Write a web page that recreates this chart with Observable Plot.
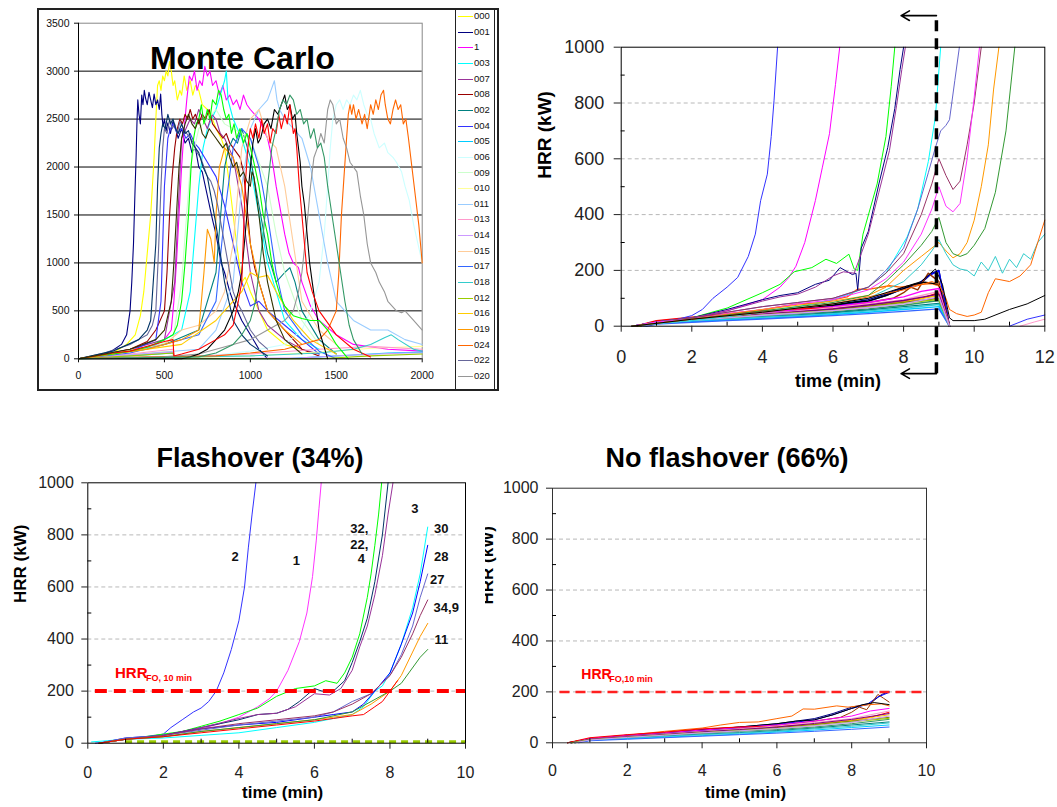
<!DOCTYPE html>
<html><head><meta charset="utf-8">
<script src="https://cdn.jsdelivr.net/npm/d3@7"></script>
<script src="https://cdn.jsdelivr.net/npm/@observablehq/plot@0.6"></script>
<style>
html,body{margin:0;padding:0;background:#fff;}
#root{position:relative;width:1057px;height:807px;overflow:hidden;background:#fff;font-family:"Liberation Sans",Arial,sans-serif;}
.abs{position:absolute;}
.title{position:absolute;font-weight:bold;font-size:27px;text-align:center;line-height:32px;color:#000;}
#legend{position:absolute;left:455px;top:10px;width:38px;height:379px;border-left:1px solid #222;border-right:1px solid #222;overflow:hidden;font-size:9.5px;}
.li{position:absolute;left:2px;height:12px;line-height:12px;white-space:nowrap;color:#111;}
.li span.sw{display:inline-block;width:15px;height:0;border-top:1.5px solid;vertical-align:middle;margin-right:1px;}
</style></head>
<body><div id="root">
<div id="p1box" class="abs" style="left:37px;top:8px;width:462px;height:383px;border:2px solid #222;box-sizing:border-box;"></div>
<div id="legend"></div>
<div id="p2" class="abs" style="left:520px;top:0px;"></div>
<div class="title" style="left:0px;top:442px;width:520px;">Flashover (34%)</div>
<div class="title" style="left:467px;top:442px;width:520px;">No flashover (66%)</div>
<div id="p3" class="abs" style="left:0px;top:470px;"></div>
<div id="p4" class="abs" style="left:485px;top:470px;"></div>
</div>
<script>
// ---------------- Panel 1: Monte Carlo (t in s, HRR in kW) ----------------
const mcNames = ["000","001","1","003","007","008","002","004","005","006","009","010","011","013","014","015","017","018","012","016","019","024","022","020","025","026","027","028","029","030"];
const mcColors = ["#FFFF00","#000080","#FF00FF","#00FFFF","#993399","#990000","#008080","#3333FF","#00CCFF","#CCFFFF","#CCFFCC","#FFFF99","#99CCFF","#FF99CC","#CC99FF","#FFCC99","#3366FF","#33CCCC","#99CC00","#FFCC00","#FF9900","#FF6600","#666699","#969696","#003366","#000000","#00FF00","#FF0000","#339966","#333300"];
const legendCount = 25;   // entries shown in the legend box
const mc000 = [[0,0],[100,20],[200,60],[280,150],[330,250],[360,450],[380,700],[400,1100],[420,1500],[440,2100],[450,2500],[460,2850],[470,2900],[480,2800],[490,2950],[500,2900],[510,3000],[520,2950],[530,3100],[540,3000],[550,2850],[560,2900],[575,2700],[590,2800],[600,2750],[615,2950],[630,2800],[650,2900],[665,2750],[680,2850],[700,2800],[720,2650],[750,2600],[780,2500],[800,2400],[830,2300],[850,2200],[880,1800],[900,1500],[920,1200],[950,800],[970,850],[1000,700],[1050,500],[1100,300],[1200,150],[1300,100]];
const mc001 = [[0,0],[100,30],[150,50],[200,90],[250,150],[280,250],[300,500],[310,800],[320,1200],[328,1700],[335,2100],[340,2450],[345,2700],[352,2550],[360,2450],[368,2750],[375,2650],[383,2800],[390,2720],[400,2650],[410,2780],[420,2700],[430,2620],[440,2760],[450,2650],[460,2700],[470,2600],[478,2760],[485,2550],[492,2420],[500,2500],[510,2380],[520,2460],[535,2350],[550,2480],[565,2400],[580,2300],[600,2400],[620,2250],[640,2300],[660,2150],[680,2200],[700,2000],[720,1950],[750,1700],[780,1450],[800,1300],[830,1000],[850,900],[880,700],[900,600],[950,400],[1000,250],[1050,100],[1100,0]];
const mc1 = [[0,0],[150,40],[300,80],[450,150],[500,200],[540,300],[555,600],[570,1000],[585,1500],[600,2000],[615,2400],[630,2700],[645,2950],[660,2900],[675,3000],[690,2800],[705,2900],[720,2850],[735,3050],[750,2950],[765,3000],[780,2850],[800,2900],[820,2750],[840,2850],[860,2700],[880,2750],[900,2650],[920,2700],[940,2600],[960,2750],[980,2650],[1000,2600],[1025,2550],[1050,2500],[1075,2400],[1100,2300],[1125,2100],[1150,1800],[1175,1550],[1200,1300],[1225,1100],[1250,1000],[1280,950],[1300,800],[1350,550],[1400,400],[1500,250],[1600,150],[1800,100],[2000,80]];
const mc003 = [[0,0],[400,100],[600,300],[650,700],[700,1800],[725,2200],[750,2400],[775,2500],[800,2600],[825,2750],[850,2900],[860,3000],[870,2700],[885,2600],[900,2500],[925,2400],[950,2300],[975,2150],[1000,2000],[1050,1500],[1100,1000],[1150,700],[1200,400],[1300,200],[1400,100]];
const mc007 = [[0,0],[300,100],[500,200],[560,800],[600,2300],[625,2400],[650,2500],[675,2450],[700,2600],[725,2500],[750,2400],[775,2550],[800,2500],[825,2350],[850,2300],[875,2200],[900,2100],[950,1600],[1000,900],[1050,500],[1100,350],[1200,200],[1300,100],[1400,50]];
const mc008 = [[0,0],[200,60],[300,100],[400,180],[450,300],[500,500],[515,900],[530,1500],[545,1900],[560,2200],[575,2400],[590,2500],[605,2450],[620,2550],[635,2500],[650,2600],[665,2500],[680,2550],[700,2450],[720,2550],[740,2500],[760,2600],[780,2450],[800,2400],[820,2350],[840,2300],[860,2350],[880,2250],[900,2200],[920,2150],[940,2100],[960,1950],[980,1600],[1000,1200],[1025,950],[1050,800],[1100,500],[1200,300],[1300,100],[1400,30]];
const mc002 = [[0,0],[500,150],[700,300],[800,900],[850,2000],[875,2200],[900,2300],[925,2250],[950,2400],[975,2250],[1000,2100],[1050,1600],[1100,1100],[1150,800],[1200,900],[1230,950],[1260,800],[1300,500],[1400,200],[1500,50]];
const mc004 = [[0,0],[300,80],[450,200],[480,600],[500,1800],[520,2300],[535,2400],[550,2450],[575,2350],[600,2400],[625,2300],[650,2350],[675,2250],[700,2200],[750,2050],[800,1900],[850,1600],[900,1200],[950,800],[1000,550],[1050,600],[1100,500],[1200,350],[1300,200],[1400,50]];
const mc005 = [[0,0],[300,30],[550,60],[560,0],[1200,0],[1400,20],[1600,40],[1800,60],[2000,70]];
const mc006 = [[0,0],[800,40],[1000,80],[1200,150],[1300,300],[1350,500],[1400,800],[1430,1300],[1450,1800],[1465,2200],[1480,2500],[1500,2650],[1520,2700],[1540,2600],[1560,2700],[1580,2650],[1600,2750],[1620,2700],[1640,2800],[1660,2650],[1680,2550],[1700,2500],[1720,2350],[1750,2200],[1780,2250],[1800,2150],[1830,2100],[1850,2050],[1880,1950],[1900,1800],[1925,1650],[1950,1400],[1975,1200],[2000,1000]];
const mc009 = [[0,0],[400,100],[550,200],[600,800],[650,2000],[700,2400],[750,2500],[800,2600],[850,2450],[900,2400],[1000,2300],[1100,1800],[1150,1300],[1200,900],[1300,400],[1400,150]];
const mc010 = [[0,0],[300,40],[550,80],[560,10],[1000,30],[1300,60],[1500,80],[1700,110],[2000,130]];
const mc011 = [[0,0],[700,100],[800,300],[900,800],[950,1800],[1000,2400],[1050,2600],[1100,2700],[1120,2800],[1140,2900],[1155,2700],[1170,2600],[1200,2500],[1250,2400],[1300,2300],[1350,2000],[1400,1500],[1450,1000],[1500,600],[1600,400],[1700,300],[1800,300],[1900,200],[2000,150]];
const mc013 = [[0,0],[300,50],[550,100],[560,20],[1000,50],[1400,100],[1700,130],[2000,100]];
const mc014 = [[0,0],[300,40],[550,70],[560,0],[1300,10],[1600,40],[1900,60],[2000,60]];
const mc015 = [[0,0],[500,150],[600,300],[700,350],[800,500],[850,700],[900,1200],[950,2200],[1000,2500],[1050,2600],[1100,2300],[1150,2200],[1200,1800],[1250,1200],[1300,600],[1400,300],[1500,150]];
const mc017 = [[0,0],[300,60],[500,150],[700,250],[800,600],[850,1500],[900,2200],[950,2400],[1000,2300],[1050,2000],[1100,1500],[1150,900],[1200,500],[1300,250],[1400,80],[1500,0]];
const mc018 = [[0,0],[1000,30],[1400,60],[1600,100],[1700,150],[1780,220],[1820,250],[1860,200],[1950,100],[2000,80]];
const mc012 = [[0,0],[300,30],[550,60],[560,0],[1400,0],[1700,30],[2000,50]];
const mc016 = [[0,0],[600,150],[800,400],[950,700],[1000,900],[1050,850],[1100,870],[1150,700],[1250,400],[1350,200],[1500,50]];
const mc019 = [[0,0],[400,100],[600,200],[700,300],[730,900],[750,1350],[770,1250],[790,1000],[800,1500],[820,2000],[850,2200],[900,2100],[950,1800],[1000,1200],[1050,800],[1100,500],[1200,300],[1300,150]];
const mc024 = [[0,0],[400,20],[800,30],[1000,60],[1200,100],[1300,150],[1400,200],[1450,300],[1500,500],[1515,900],[1530,1500],[1545,1900],[1560,2300],[1570,2550],[1580,2650],[1590,2550],[1600,2650],[1615,2500],[1630,2600],[1650,2450],[1665,2550],[1680,2400],[1700,2650],[1715,2550],[1730,2700],[1745,2600],[1760,2750],[1775,2800],[1785,2650],[1800,2500],[1815,2450],[1830,2600],[1845,2700],[1860,2600],[1875,2650],[1890,2450],[1905,2500],[1920,2300],[1940,2000],[1960,1700],[1980,1400],[2000,1000]];
const mc022 = [[0,0],[150,60],[300,150],[350,200],[400,250],[430,350],[450,500],[465,1100],[480,1800],[490,2200],[500,2400],[515,2350],[530,2500],[545,2400],[560,2450],[575,2350],[590,2480],[610,2400],[630,2350],[650,2300],[670,2250],[690,2150],[710,2100],[730,2000],[750,1900],[770,1850],[790,1750],[810,1600],[830,1400],[850,1200],[875,950],[900,700],[925,580],[950,500],[1000,300],[1050,180],[1100,100]];
const mc020 = [[0,0],[500,20],[700,50],[900,150],[1000,200],[1100,300],[1200,400],[1250,500],[1280,700],[1300,900],[1330,1400],[1350,1800],[1370,2100],[1390,2200],[1410,2350],[1430,2250],[1450,2600],[1465,2700],[1480,2650],[1500,2450],[1520,2500],[1540,2300],[1560,2200],[1580,2050],[1600,2000],[1620,1950],[1640,1700],[1660,1500],[1680,1200],[1700,1000],[1730,900],[1750,800],[1780,700],[1800,600],[1850,500],[1880,480],[1900,500],[1950,400],[2000,300]];
const mc025 = [[0,0],[200,80],[350,200],[400,300],[420,400],[435,800],[450,1200],[460,1800],[470,2200],[480,2350],[490,2450],[505,2400],[520,2550],[535,2450],[550,2500],[565,2400],[580,2350],[600,2450],[620,2350],[640,2380],[660,2250],[680,2200],[700,2150],[725,2000],[750,1900],[775,1650],[800,1400],[825,1100],[850,800],[875,600],[900,400],[950,250],[1000,150],[1100,30]];
const mc026 = [[0,0],[600,0],[650,20],[700,50],[750,100],[800,200],[850,300],[900,500],[930,700],[950,900],[965,1200],[980,1500],[990,1800],[1000,2000],[1015,2250],[1030,2400],[1045,2250],[1060,2300],[1080,2450],[1100,2500],[1120,2400],[1140,2600],[1160,2550],[1180,2650],[1200,2750],[1215,2600],[1230,2650],[1245,2500],[1260,2550],[1270,2350],[1280,2200],[1290,2050],[1300,1800],[1315,1600],[1330,1300],[1345,1000],[1360,800],[1380,550],[1400,300],[1450,0]];
const mc027 = [[0,0],[100,30],[200,50],[300,80],[400,120],[500,200],[550,250],[575,350],[600,600],[620,1000],[640,1500],[655,2000],[670,2300],[685,2450],[700,2500],[715,2650],[730,2450],[750,2600],[765,2500],[780,2700],[800,2650],[815,2800],[830,2750],[845,2600],[860,2500],[875,2550],[890,2350],[905,2450],[920,2300],[940,2400],[960,2250],[980,2350],[1000,2200],[1020,2050],[1050,1800],[1075,1500],[1100,1300],[1125,1000],[1150,800],[1175,650],[1200,550],[1250,450],[1300,420],[1350,400],[1400,400],[1450,300],[1500,150],[1570,0]];
const mc028 = [[0,0],[100,30],[200,60],[300,80],[400,130],[500,180],[550,200],[555,30],[600,50],[700,100],[800,200],[850,250],[900,350],[930,600],[950,800],[960,1300],[970,1800],[985,2200],[1000,2400],[1015,2300],[1030,2450],[1050,2300],[1065,2500],[1080,2350],[1100,2450],[1115,2250],[1130,2400],[1150,2350],[1165,2550],[1180,2400],[1200,2550],[1215,2450],[1230,2650],[1240,2500],[1250,2350],[1260,2400],[1270,2200],[1285,1800],[1300,1500],[1315,1200],[1330,900],[1360,700],[1400,500],[1500,250],[1600,100],[1700,20]];
const mc029 = [[0,0],[700,20],[800,60],[900,150],[950,250],[1000,400],[1030,600],[1050,900],[1075,1300],[1100,1800],[1125,2200],[1150,2400],[1170,2600],[1190,2700],[1210,2650],[1230,2750],[1250,2700],[1270,2550],[1290,2600],[1310,2450],[1330,2500],[1350,2300],[1370,2400],[1390,2200],[1410,2250],[1430,2100],[1450,1800],[1475,1500],[1500,1200],[1525,900],[1550,600],[1575,350],[1600,200],[1650,50]];
const mc030 = [[0,0],[300,100],[450,200],[500,300],[520,450],[540,600],[555,1000],[570,1500],[585,2000],[600,2300],[620,2450],[640,2550],[660,2450],[680,2400],[700,2500],[720,2350],[740,2300],[760,2400],[780,2350],[800,2300],[820,2250],[840,2200],[860,2250],[880,2100],[900,2000],[920,2050],[940,1900],[960,1950],[980,1850],[1000,1800],[1010,1950],[1020,1900],[1035,1700],[1050,1500],[1075,1100],[1100,800],[1150,400],[1200,200],[1300,50]];
const mcSeries = [mc000,mc001,mc1,mc003,mc007,mc008,mc002,mc004,mc005,mc006,mc009,mc010,mc011,mc013,mc014,mc015,mc017,mc018,mc012,mc016,mc019,mc024,mc022,mc020,mc025,mc026,mc027,mc028,mc029,mc030];
const mcXTicks = [0,500,1000,1500,2000];
const mcYTicks = [0,500,1000,1500,2000,2500,3000,3500];
const mcGrid = [500,1000,1500,2000,2500,3000];

// ---------------- Panel 4 / bundle: no-flashover runs (min, kW) ----------------
const nfNames = ["nf01","nf02","nf03","nf04","nf05","nf06","nf07","nf08","nf09","nf10","nf11","nf12","nf13","nf14","nf15","nf16","nf17","nf18"];
const nfColors = ["#000080","#0000FF","#993300","#FF6600","#000000","#FF00FF","#FF0000","#FF99CC","#FFCC00","#808000","#339966","#008080","#33CCCC","#00CCFF","#3366FF","#800080","#99CC00","#CC99FF"];
const nf01 = [[0.4,0],[1,15],[2,28],[3,38],[4,50],[5,62],[6,75],[7,95],[7.5,115],[8,140],[8.5,155],[8.8,190],[9,200]];
const nf02 = [[0.5,0],[1,14],[2,26],[3,36],[4,48],[5,58],[6,72],[7,90],[7.5,110],[8,135],[8.4,150],[8.7,180],[9,198]];
const nf03 = [[0.5,0],[1,12],[2,24],[3,34],[4,45],[5,55],[6,68],[7,85],[7.7,100],[8,120],[8.2,140],[8.4,130],[8.7,190],[8.85,175],[9,160]];
const nf04 = [[0.4,0],[1,16],[2,30],[3,45],[4,58],[4.5,70],[5,80],[5.5,82],[6,95],[6.4,105],[6.7,133],[7,132],[7.6,145],[7.9,140],[8.5,150],[8.8,153],[9,145]];
const nf05 = [[0.4,0],[1,16],[2,30],[3,40],[4,52],[5,62],[6,75],[6.5,85],[7,90],[7.5,110],[8,135],[8.3,150],[8.6,158],[9,150]];
const nf06 = [[0.5,0],[1,18],[2,30],[3,40],[4,50],[5,60],[6,70],[7,85],[8,105],[8.5,125],[9,135]];
const nf07 = [[0.4,0],[1,20],[2,32],[3,42],[4,55],[5,62],[6,65],[7,72],[8,88],[8.5,100],[9,120]];
const nf08 = [[0.5,0],[1,14],[2,25],[3,35],[4,45],[5,55],[6,66],[7,80],[8,95],[9,125]];
const nf09 = [[0.6,0],[1,10],[2,18],[3,28],[4,38],[5,48],[6,58],[7,72],[8,88],[9,110]];
const nf10 = [[0.6,0],[1,10],[2,20],[3,30],[4,40],[5,50],[6,60],[7,72],[8,85],[9,100]];
const nf11 = [[0.5,0],[1,12],[2,22],[3,30],[4,38],[5,45],[6,52],[7,62],[8,75],[9,92]];
const nf12 = [[0.5,0],[1,12],[2,20],[3,27],[4,34],[5,40],[6,48],[7,58],[8,70],[9,82]];
const nf13 = [[0.6,0],[1,10],[2,18],[3,25],[4,32],[5,38],[6,45],[7,55],[8,65],[9,78]];
const nf14 = [[0.6,0],[1,10],[2,16],[3,22],[4,28],[5,34],[6,42],[7,50],[8,60],[9,70]];
const nf15 = [[0.7,0],[1,8],[2,14],[3,20],[4,26],[5,32],[6,38],[7,45],[8,53],[9,62]];
const nf16 = [[0.5,0],[1,14],[2,24],[3,33],[4,43],[5,52],[6,62],[7,76],[8,92],[9,115]];
const nf17 = [[0.5,0],[1,12],[2,22],[3,31],[4,40],[5,48],[6,56],[7,68],[8,82],[9,96]];
const nf18 = [[0.6,0],[1,11],[2,21],[3,30],[4,39],[5,47],[6,56],[7,67],[8,80],[9,105]];
const nfSeries = [nf01,nf02,nf03,nf04,nf05,nf06,nf07,nf08,nf09,nf10,nf11,nf12,nf13,nf14,nf15,nf16,nf17,nf18];
const bundleDropTime = 9.3;

// ---------------- Panel 2: curves that continue past 9 min ----------------
const f2Names = ["f2_2","f2_1","f2_32","f2_22","f2_4","f2_30","f2_28","f2_27","f2_34","f2_19","f2_11","f2_18","f2_24","f2_26","f2_17","f2_13"];
const f2Colors = ["#3333FF","#FF00FF","#00FF00","#000080","#993399","#00FFFF","#6666CC","#993366","#FF33FF","#FF9900","#339933","#33CCCC","#FF6600","#000000","#3333FF","#FF99CC"];
const f2_2 = [[0.3,0],[1,15],[1.6,25],[2,38],[2.3,60],[2.6,100],[3,140],[3.3,175],[3.6,250],[3.8,330],[3.95,450],[4.14,545],[4.25,680],[4.33,810],[4.43,1000]];
const f2_1 = [[0.3,0],[1,15],[2,30],[3,55],[4,95],[4.5,140],[4.75,175],[4.95,215],[5.2,300],[5.5,450],[5.7,570],[5.9,690],[6.07,866],[6.19,1000]];
const f2_32 = [[0.3,0],[1,15],[2,30],[3,65],[4,120],[4.5,150],[4.9,195],[5.4,210],[5.8,240],[6.1,225],[6.45,258],[6.6,205],[6.7,200],[6.85,330],[7.05,420],[7.25,510],[7.5,680],[7.65,860],[7.75,1000]];
const f2_22 = [[0.3,0],[1,15],[2,30],[3,60],[4,95],[4.5,110],[5,120],[5.5,150],[5.9,165],[6.2,210],[6.55,185],[6.65,190],[6.7,130],[6.8,280],[7,340],[7.3,510],[7.55,640],[7.75,780],[7.9,920],[8,1000]];
const f2_4 = [[0.3,0],[1,15],[2,30],[3,55],[4,90],[4.5,105],[5,115],[5.5,140],[6,180],[6.3,195],[6.6,190],[6.8,260],[7,330],[7.3,480],[7.6,630],[7.8,790],[7.95,920],[8.05,1000]];
const f2_30 = [[0.3,0],[1,12],[2,20],[3,35],[4,50],[5,70],[6,95],[7,140],[7.5,190],[7.8,255],[8.1,320],[8.4,420],[8.7,590],[8.9,750],[9.05,1000]];
const f2_28 = [[0.3,0],[1,15],[2,30],[3,50],[4,70],[5,85],[6,100],[7,140],[7.5,200],[8,280],[8.4,420],[8.7,550],[8.9,640],[9.05,700],[9.2,720],[9.3,740],[9.45,880],[9.58,1000]];
const f2_27 = [[0.3,0],[1,15],[2,30],[3,50],[4,70],[5,85],[6,100],[7,140],[7.5,190],[8,260],[8.5,400],[8.8,510],[9,600],[9.2,540],[9.4,490],[9.6,520],[9.8,650],[10,800],[10.2,1000]];
const f2_34 = [[0.3,0],[1,15],[2,25],[3,45],[4,60],[5,80],[6,95],[7,130],[7.5,170],[8,230],[8.5,330],[8.8,420],[9,500],[9.2,430],[9.4,410],[9.6,440],[9.8,600],[10,820],[10.15,1000]];
const f2_19 = [[0.3,0],[2,25],[4,60],[6,90],[7,110],[7.5,140],[8,200],[8.5,250],[8.8,280],[9,300],[9.2,270],[9.4,245],[9.6,260],[9.8,300],[10,380],[10.2,500],[10.4,650],[10.55,850],[10.7,1000]];
const f2_11 = [[0.3,0],[2,25],[4,55],[6,85],[7,110],[7.5,160],[8,220],[8.5,290],[8.8,340],[9,390],[9.2,300],[9.4,260],[9.6,250],[9.8,260],[10,290],[10.3,350],[10.6,480],[10.9,700],[11.15,1000]];
const f2_18 = [[0.3,0],[2,20],[4,50],[6,80],[7,100],[8,160],[8.5,220],[8.8,270],[9,310],[9.2,260],[9.4,220],[9.6,205],[9.8,200],[10,180],[10.2,230],[10.4,200],[10.6,250],[10.8,190],[11,240],[11.2,210],[11.4,260],[11.6,240],[11.8,300],[12,330]];
const f2_24 = [[0.3,0],[2,25],[4,50],[6,80],[8,130],[8.8,160],[9,150],[9.2,100],[9.3,60],[9.5,45],[9.8,35],[10,40],[10.2,50],[10.4,120],[10.6,170],[11,160],[11.3,180],[11.6,220],[12,380]];
const f2_26 = [[0.3,0],[2,25],[4,50],[6,80],[7,100],[8,140],[8.5,160],[8.9,205],[9.1,150],[9.3,30],[9.4,20],[10,20],[10.3,25],[11,60],[11.5,80],[12,110]];
const f2_17 = [[11,0],[11.5,25],[12,40]];
const f2_13 = [[11.3,0],[11.7,15],[12,25]];
const f2Series = [f2_2,f2_1,f2_32,f2_22,f2_4,f2_30,f2_28,f2_27,f2_34,f2_19,f2_11,f2_18,f2_24,f2_26,f2_17,f2_13];
const limitTime = 8.93;         // dashed cut-off line, min
const limitTop = 1113, limitBottom = -170, arrowTip = 7.93;

// ---------------- Panel 3: flashover runs ----------------
const foNames = ["fo_2","fo_1","fo_32","fo_22","fo_4","fo_30","fo_28","fo_27","fo_34","fo_19","fo_11","fo_red"];
const foColors = ["#3333FF","#FF33FF","#00FF00","#003366","#993399","#00FFFF","#0000FF","#6666CC","#993366","#FF9900","#339933","#FF0000"];
const fo_2 = [[0.2,0],[1,15],[1.5,22],[2,35],[2.2,60],[2.5,90],[2.8,120],[3,135],[3.2,160],[3.4,200],[3.6,270],[3.8,360],[4,470],[4.15,600],[4.25,750],[4.35,880],[4.45,1000]];
const fo_1 = [[0.3,0],[1,15],[2,30],[3,55],[3.5,75],[4,100],[4.5,140],[4.8,170],[5,200],[5.3,280],[5.6,390],[5.8,500],[5.95,640],[6.05,780],[6.12,900],[6.18,1000]];
const fo_32 = [[0.3,0],[1,15],[2,35],[2.5,45],[3,65],[3.5,85],[4,110],[4.5,135],[5,180],[5.5,210],[6,220],[6.3,240],[6.6,230],[6.8,270],[7,330],[7.2,420],[7.4,560],[7.5,650],[7.6,760],[7.7,880],[7.78,1000]];
const fo_22 = [[0.3,0],[1,15],[2,30],[3,60],[3.5,75],[4,90],[4.5,110],[5,115],[5.3,130],[5.6,160],[6,210],[6.2,200],[6.5,200],[6.8,240],[7,310],[7.2,390],[7.4,480],[7.6,620],[7.8,800],[7.95,1000]];
const fo_4 = [[0.3,0],[1,15],[2,30],[3,60],[4,95],[4.5,110],[5,115],[5.5,140],[6,190],[6.4,185],[6.7,210],[7,280],[7.2,370],[7.4,450],[7.6,570],[7.8,720],[7.95,880],[8.08,1000]];
const fo_30 = [[0.1,5],[1,15],[2,20],[3,30],[3.5,35],[4,40],[5,60],[6,80],[6.5,95],[7,110],[7.3,140],[7.6,200],[7.8,220],[8,270],[8.3,380],[8.6,520],[8.8,650],[9,830]];
const fo_28 = [[0.3,0],[1,20],[2,30],[3,55],[4,70],[5,80],[6,100],[6.5,110],[7,120],[7.3,150],[7.6,200],[8,270],[8.3,380],[8.6,500],[8.8,620],[9,760]];
const fo_27 = [[0.3,0],[1,20],[2,30],[3,50],[4,70],[5,85],[6,100],[6.5,120],[7,160],[7.5,190],[8,260],[8.3,340],[8.6,450],[8.8,560],[9,650]];
const fo_34 = [[0.3,0],[1,15],[2,30],[3,55],[4,75],[5,90],[6,105],[6.5,120],[7,150],[7.5,190],[8,260],[8.3,330],[8.6,420],[8.8,490],[9,550]];
const fo_19 = [[0.3,0],[1,15],[2,25],[3,45],[4,60],[5,75],[6,90],[6.5,100],[7,110],[7.5,150],[8,200],[8.3,260],[8.6,350],[8.8,410],[9,460]];
const fo_11 = [[0.3,0],[1,15],[2,25],[3,45],[4,60],[5,75],[6,90],[7,120],[7.5,160],[8,200],[8.3,230],[8.5,270],[8.8,330],[9,360]];
const fo_red = [[0.3,0],[1,15],[2,25],[3,40],[4,55],[5,70],[6,85],[6.5,95],[7,105],[7.3,110],[7.6,140],[7.8,160],[8,200],[8.2,240]];
const foSeries = [fo_2,fo_1,fo_32,fo_22,fo_4,fo_30,fo_28,fo_27,fo_34,fo_19,fo_11,fo_red];
const foLabels = ["2","1","32,","22,","4","3","30","28","27","34,9","11"];
const foLabelX = [3.9,5.52,7.19,7.19,7.24,8.66,9.36,9.36,9.25,9.49,9.36];
const foLabelY = [717,699,823,763,708,900,822,717,627,518,397];
const foThreshold = 200;   // HRR_FO,10 min (kW)
const baseLine = {y: 6, x1: 1.0, x2: 10};

// ---------------- helpers ----------------
const FONT = '"Liberation Sans", Arial, sans-serif';
function rows(names, series) { return names.flatMap((s, i) => series[i].map(([t, v]) => ({s, t, v}))); }
const majorT = [0,2,4,6,8,10,12], minorT = [1,3,5,7,9,11];
const majorY = [0,200,400,600,800,1000], minorY = [100,300,500,700,900];
const gridY = [200,400,600,800];

// ---------- Panel 1 ----------
{
  const W = 416, H = 379, mL = 39, mR = 33.3, mT = 12.7, mB = 30.7;
  const p = Plot.plot({
    width: W, height: H, marginLeft: mL, marginRight: mR, marginTop: mT, marginBottom: mB,
    x: {domain: [0, 2000], label: null}, y: {domain: [0, 3500], label: null},
    color: {domain: mcNames, range: mcColors},
    style: {fontFamily: FONT, fontSize: "10.5px", color: "#111", background: "white", overflow: "hidden"},
    marks: [
      Plot.frame({stroke: "#888"}),
      Plot.ruleY(mcGrid, {stroke: "black", strokeWidth: 1}),
      Plot.line(rows(mcNames, mcSeries), {x: "t", y: "v", z: "s", stroke: "s", strokeWidth: 1.1}),
      Plot.ruleX([0], {stroke: "black"}), Plot.ruleY([0], {stroke: "black"}),
      Plot.axisX({ticks: mcXTicks, tickSize: 4, tickPadding: 9, tickFormat: "d", label: null}),
      Plot.axisY({ticks: mcYTicks, tickSize: 4, tickPadding: 5, tickFormat: "d", label: null}),
      Plot.text(["Monte Carlo"], {frameAnchor: "top", dx: -8, dy: 23, fontSize: 32, fontWeight: "bold", fill: "black"})
    ]
  });
  p.style.position = "absolute"; p.style.left = "0px"; p.style.top = "0px";
  document.getElementById("p1box").appendChild(p);
  const lg = document.getElementById("legend");
  mcNames.slice(0, legendCount).forEach((n, i) => {
    const d = document.createElement("div");
    d.className = "li"; d.style.top = (15.65 * i) + "px";
    d.innerHTML = `<span class="sw" style="border-color:${mcColors[i]}"></span>${n}`;
    lg.appendChild(d);
  });
}

// ---------- Panel 2 ----------
{
  const W = 537, H = 400, mL = 100.7, mR = 12.7, mT = 46.7, mB = 74.3;
  const pw = W - mL - mR, ph = H - mT - mB;
  const bundle = nfSeries.map(pts => [...pts, [bundleDropTime, 0]]);
  const names = [...nfNames, ...f2Names], colors = [...nfColors, ...f2Colors];
  const p = Plot.plot({
    width: W, height: H, marginLeft: mL, marginRight: mR, marginTop: mT, marginBottom: mB,
    x: {domain: [0, 12], label: null}, y: {domain: [0, 1000], label: null},
    color: {domain: names, range: colors},
    style: {fontFamily: FONT, fontSize: "18px", color: "#222", background: "transparent", overflow: "visible"},
    marks: [
      Plot.ruleY(gridY, {stroke: "#b8b8b8", strokeDasharray: "4,3"}),
      Plot.line(rows(nfNames, bundle), {x: "t", y: "v", z: "s", stroke: "s", strokeWidth: 1.4}),
      Plot.line(rows(f2Names, f2Series), {x: "t", y: "v", z: "s", stroke: "s", strokeWidth: 1}),
      Plot.frame({stroke: "black"}),
      Plot.axisX({ticks: majorT, tickSize: 6, tickPadding: 18, tickFormat: "d", label: null}),
      Plot.tickX(minorT, {x: d => d, insetTop: ph - 4, stroke: "black"}),
      Plot.axisY({ticks: majorY, tickSize: 7, tickPadding: 10, tickFormat: "d", label: null}),
      Plot.tickY(minorY, {y: d => d, insetRight: pw - 4, stroke: "black"}),
      Plot.ruleX([limitTime], {y1: limitBottom, y2: limitTop, stroke: "black", strokeWidth: 3.5, strokeDasharray: "11,7"}),
      Plot.arrow([{x1: limitTime, x2: arrowTip, y: limitTop}, {x1: limitTime, x2: arrowTip, y: limitBottom}],
        {x1: "x1", x2: "x2", y1: "y", y2: "y", stroke: "black", strokeWidth: 1.6, headLength: 9}),
      Plot.text(["time (min)"], {frameAnchor: "bottom", dx: 5, dy: 61, fontSize: 18, fontWeight: "bold", fill: "black"}),
      Plot.text(["HRR (kW)"], {frameAnchor: "left", dx: -76, dy: -8, rotate: -90, fontSize: 19, fontWeight: "bold", fill: "black"})
    ]
  });
  document.getElementById("p2").appendChild(p);
}

// ---------- Panel 3 ----------
{
  const W = 480, H = 337, mL = 87.3, mR = 15, mT = 12.3, mB = 64.3;
  const pw = W - mL - mR, ph = H - mT - mB;
  const p = Plot.plot({
    width: W, height: H, marginLeft: mL, marginRight: mR, marginTop: mT, marginBottom: mB,
    x: {domain: [0, 10], label: null}, y: {domain: [0, 1000], label: null},
    color: {domain: foNames, range: foColors},
    style: {fontFamily: FONT, fontSize: "16px", color: "#222", background: "transparent", overflow: "visible"},
    marks: [
      Plot.ruleY(gridY, {stroke: "#b8b8b8", strokeDasharray: "4,3"}),
      Plot.ruleY([baseLine], {y: "y", x1: "x1", x2: "x2", stroke: "#99CC00", strokeWidth: 3, strokeDasharray: "7,5"}),
      Plot.line(rows(foNames, foSeries), {x: "t", y: "v", z: "s", stroke: "s", strokeWidth: 1}),
      Plot.ruleY([{y: foThreshold, x1: 0.2, x2: 10}], {y: "y", x1: "x1", x2: "x2", stroke: "#FF0000", strokeWidth: 4, strokeDasharray: "12,7"}),
      Plot.frame({stroke: "black"}),
      Plot.axisX({ticks: [0,2,4,6,8,10], tickSize: 6, tickPadding: 17, tickFormat: "d", label: null}),
      Plot.tickX([1,3,5,7,9], {x: d => d, insetTop: ph - 4, stroke: "black"}),
      Plot.axisY({ticks: majorY, tickSize: 6, tickPadding: 8, tickFormat: "d", label: null}),
      Plot.tickY(minorY, {y: d => d, insetRight: pw - 4, stroke: "black"}),
      Plot.text(foLabels.map((l, i) => ({l, x: foLabelX[i], y: foLabelY[i]})), {x: "x", y: "y", text: "l", fontSize: 13, fontWeight: "bold", fill: "#111"}),
      Plot.text([{x: 0.72, y: 251, l: "HRR"}], {x: "x", y: "y", text: "l", textAnchor: "start", lineAnchor: "bottom", fontSize: 15, fontWeight: "bold", fill: "#FF0000"}),
      Plot.text([{x: 0.72, y: 251, l: "FO, 10 min"}], {x: "x", y: "y", text: "l", textAnchor: "start", lineAnchor: "bottom", dx: 31, dy: 3, fontSize: 9, fontWeight: "bold", fill: "#FF0000"}),
      Plot.text(["time (min)"], {frameAnchor: "bottom", dx: 6, dy: 55, fontSize: 17, fontWeight: "bold", fill: "black"}),
      Plot.text(["HRR (kW)"], {frameAnchor: "left", dx: -67, dy: -10, rotate: -90, fontSize: 17, fontWeight: "bold", fill: "black"})
    ]
  });
  document.getElementById("p3").appendChild(p);
}

// ---------- Panel 4 ----------
{
  const W = 495, H = 337, mL = 67, mR = 54, mT = 17.7, mB = 64.7;
  const pw = W - mL - mR, ph = H - mT - mB;
  const p = Plot.plot({
    width: W, height: H, marginLeft: mL, marginRight: mR, marginTop: mT, marginBottom: mB,
    x: {domain: [0, 10], label: null}, y: {domain: [0, 1000], label: null},
    color: {domain: nfNames, range: nfColors},
    style: {fontFamily: FONT, fontSize: "16px", color: "#222", background: "transparent", overflow: "hidden"},
    marks: [
      Plot.ruleY(gridY, {stroke: "#b8b8b8", strokeDasharray: "4,3"}),
      Plot.line(rows(nfNames, nfSeries), {x: "t", y: "v", z: "s", stroke: "s", strokeWidth: 1}),
      Plot.ruleY([{y: foThreshold, x1: 0.2, x2: 10}], {y: "y", x1: "x1", x2: "x2", stroke: "#FF2020", strokeWidth: 2.5, strokeDasharray: "10,6"}),
      Plot.frame({stroke: "#333"}),
      Plot.axisX({ticks: [0,2,4,6,8,10], tickSize: 6, tickPadding: 16, tickFormat: "d", label: null}),
      Plot.tickX([1,3,5,7,9], {x: d => d, insetTop: ph - 4, stroke: "black"}),
      Plot.axisY({ticks: majorY, tickSize: 6, tickPadding: 8, tickFormat: "d", label: null}),
      Plot.tickY(minorY, {y: d => d, insetRight: pw - 4, stroke: "black"}),
      Plot.text([{x: 0.77, y: 249, l: "HRR"}], {x: "x", y: "y", text: "l", textAnchor: "start", lineAnchor: "bottom", fontSize: 14, fontWeight: "bold", fill: "#FF0000"}),
      Plot.text([{x: 0.77, y: 249, l: "FO,10 min"}], {x: "x", y: "y", text: "l", textAnchor: "start", lineAnchor: "bottom", dx: 28, dy: 3, fontSize: 9, fontWeight: "bold", fill: "#FF0000"}),
      Plot.text(["time (min)"], {frameAnchor: "bottom", dx: 6, dy: 55, fontSize: 17, fontWeight: "bold", fill: "black"}),
      Plot.text(["HRR (kW)"], {frameAnchor: "left", dx: -65, dy: -11, rotate: -90, fontSize: 17, fontWeight: "bold", fill: "black"})
    ]
  });
  document.getElementById("p4").appendChild(p);
}
</script>
</body></html>
